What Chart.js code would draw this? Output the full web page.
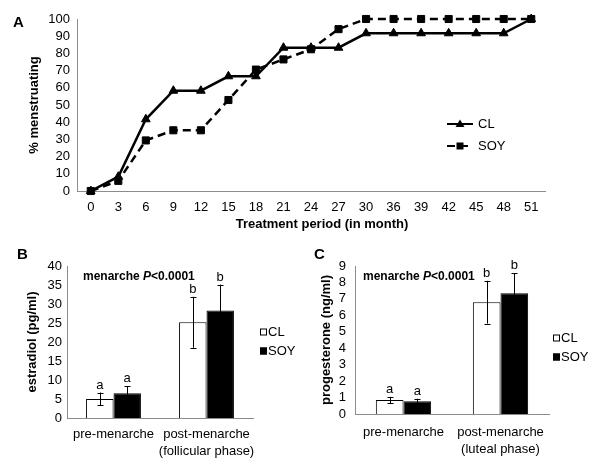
<!DOCTYPE html>
<html>
<head>
<meta charset="utf-8">
<script src="https://cdn.jsdelivr.net/npm/chart.js@4/dist/chart.umd.min.js"></script>
<style>
  body { margin: 0; background: #fff; }
  #wrap { position: relative; width: 600px; height: 466px; }
  canvas { position: absolute; }
</style>
</head>
<body>
<div id="wrap">
  <canvas id="chartA" width="600" height="232" style="left:0;top:0"></canvas>
  <canvas id="chartB" width="300" height="236" style="left:0;top:230px"></canvas>
  <canvas id="chartC" width="300" height="236" style="left:300px;top:230px"></canvas>
</div>
<script>
// panel A data
const months = ['0', '3', '6', '9', '12', '15', '18', '21', '24', '27', '30', '36', '39', '42', '45', '48', '51'];
const clPct = [0, 8.3, 41.7, 58.3, 58.3, 66.7, 66.7, 83.3, 83.3, 83.3, 91.7, 91.7, 91.7, 91.7, 91.7, 91.7, 100];
const soyPct = [0, 5.9, 29.4, 35.3, 35.3, 52.9, 70.6, 76.5, 82.4, 94.1, 100, 100, 100, 100, 100, 100, 100];

// panel B data
const phasesB = ['pre-menarche', ['post-menarche', '(follicular phase)']];
const estradiolCL = [5.0, 25.2];
const estradiolCLErr = [1.7, 6.7];
const estradiolSOY = [6.5, 28.3];
const estradiolSOYErr = [1.8, 6.8];

// panel C data
const phasesC = ['pre-menarche', ['post-menarche', '(luteal phase)']];
const progCL = [0.85, 6.8];
const progCLErr = [0.19, 1.3];
const progSOY = [0.77, 7.35];
const progSOYErr = [0.16, 1.2];

const sigLetters = ['a', 'b'];
const groupNames = ['CL', 'SOY'];

Chart.defaults.font.family = '"Liberation Sans", Arial, sans-serif';
Chart.defaults.font.size = 13;
Chart.defaults.color = '#000';
Chart.defaults.animation = false;

const axisGray = '#8c8c8c';

// plain text drawn on top (panel letters, notes, titles)
const textPlugin = {
    id: 'texts',
    afterDraw(chart, args, opts) {
        const ctx = chart.ctx;
        ctx.save();
        ctx.fillStyle = '#000';
        ctx.textBaseline = 'middle';
        (opts.items || []).forEach(t => {
            ctx.textAlign = t.align || 'left';
            if (t.parts) {
                let x = t.x;
                t.parts.forEach(p => {
                    ctx.font = p.font;
                    ctx.fillText(p.text, x, t.y);
                    x += ctx.measureText(p.text).width;
                });
            } else {
                ctx.font = t.font;
                ctx.fillText(t.text, t.x, t.y);
            }
        });
        ctx.restore();
    }
};

// legend with line + marker for the line chart
const lineLegend = {
    id: 'lineLegend',
    afterDraw(chart, args, opts) {
        const ctx = chart.ctx;
        ctx.save();
        chart.data.datasets.forEach((ds, i) => {
            const y = opts.y + i * opts.gap;
            ctx.strokeStyle = '#000';
            ctx.lineWidth = 2;
            ctx.setLineDash(ds.borderDash || []);
            ctx.beginPath();
            ctx.moveTo(opts.x, y);
            ctx.lineTo(opts.x + 26, y);
            ctx.stroke();
            ctx.setLineDash([]);
            ctx.fillStyle = '#000';
            const cx = opts.x + 13;
            ctx.beginPath();
            if (ds.pointStyle === 'triangle') {
                ctx.moveTo(cx, y - 4.5);
                ctx.lineTo(cx + 4.5, y + 3);
                ctx.lineTo(cx - 4.5, y + 3);
                ctx.closePath();
            } else {
                ctx.rect(cx - 3.5, y - 3.5, 7, 7);
            }
            ctx.fill();
            ctx.font = '13px "Liberation Sans", Arial, sans-serif';
            ctx.textBaseline = 'middle';
            ctx.fillText(ds.label, opts.x + 31, y);
        });
        ctx.restore();
    }
};

// legend with small boxes for the bar charts
const boxLegend = {
    id: 'boxLegend',
    afterDraw(chart, args, opts) {
        const ctx = chart.ctx;
        ctx.save();
        chart.data.datasets.forEach((ds, i) => {
            const y = opts.y + i * opts.gap;
            ctx.fillStyle = ds.backgroundColor;
            ctx.fillRect(opts.x, y - 3.5, 7, 7);
            ctx.strokeStyle = '#000';
            ctx.lineWidth = 1;
            ctx.strokeRect(opts.x + 0.5, y - 3, 6, 6);
            ctx.fillStyle = '#000';
            ctx.font = '13px "Liberation Sans", Arial, sans-serif';
            ctx.textBaseline = 'middle';
            ctx.fillText(ds.label, opts.x + 8, y);
        });
        ctx.restore();
    }
};

// error bars and significance letters, placed with the chart's own scales
const errorBars = {
    id: 'errorBars',
    afterDatasetsDraw(chart, args, opts) {
        const ctx = chart.ctx;
        const yScale = chart.scales.y;
        ctx.save();
        ctx.strokeStyle = '#000';
        ctx.lineWidth = 1;
        chart.data.datasets.forEach((ds, i) => {
            const meta = chart.getDatasetMeta(i);
            meta.data.forEach((bar, j) => {
                const v = ds.data[j];
                const e = opts.errors[i][j];
                const x = Math.round(bar.x) + 0.5;
                const yTop = yScale.getPixelForValue(v + e);
                const yBot = yScale.getPixelForValue(v - e);
                ctx.beginPath();
                ctx.moveTo(x, yTop);
                ctx.lineTo(x, yBot);
                ctx.moveTo(x - 3, Math.round(yTop) + 0.5);
                ctx.lineTo(x + 3, Math.round(yTop) + 0.5);
                ctx.moveTo(x - 3, Math.round(yBot) + 0.5);
                ctx.lineTo(x + 3, Math.round(yBot) + 0.5);
                ctx.stroke();
                ctx.fillStyle = '#000';
                ctx.font = '13px "Liberation Sans", Arial, sans-serif';
                ctx.textAlign = 'center';
                ctx.textBaseline = 'alphabetic';
                ctx.fillText(opts.letters[j], bar.x, yTop - 4);
            });
        });
        ctx.restore();
    }
};

const boldFont = 'bold 13px "Liberation Sans", Arial, sans-serif';
const noteParts = [
    { text: 'menarche ', font: 'bold 12px "Liberation Sans", Arial, sans-serif' },
    { text: 'P', font: 'italic bold 12px "Liberation Sans", Arial, sans-serif' },
    { text: '<0.0001', font: 'bold 12px "Liberation Sans", Arial, sans-serif' }
];

// Panel A: line chart
new Chart(document.getElementById('chartA'), {
    type: 'line',
    data: {
        labels: months,
        datasets: [{
            label: groupNames[0],
            data: clPct,
            borderColor: '#000',
            borderWidth: 2.5,
            pointStyle: 'triangle',
            pointRadius: 5,
            pointBackgroundColor: '#000',
            pointBorderColor: '#000',
            pointBorderWidth: 1,
            tension: 0,
            clip: false
        }, {
            label: groupNames[1],
            data: soyPct,
            borderColor: '#000',
            borderWidth: 2.5,
            borderDash: [8, 5],
            pointStyle: 'rect',
            pointRadius: 5,
            pointBackgroundColor: '#000',
            pointBorderColor: '#000',
            pointBorderWidth: 1,
            tension: 0,
            clip: false
        }]
    },
    options: {
        responsive: false,
        layout: { padding: { left: 0, right: 55, top: 19, bottom: 0 } },
        plugins: {
            legend: { display: false },
            tooltip: { enabled: false },
            lineLegend: { x: 447, y: 124, gap: 22 },
            texts: {
                items: [
                    { text: 'A', x: 13, y: 23, font: 'bold 15px "Liberation Sans", Arial, sans-serif' },
                    { text: 'Treatment period (in month)', x: 322, y: 224, align: 'center', font: boldFont }
                ]
            }
        },
        scales: {
            x: {
                offset: true,
                grid: { display: false, drawTicks: false },
                border: { display: true, color: axisGray, width: 1 },
                ticks: { padding: 9, maxRotation: 0, autoSkip: false },
                afterFit: s => { s.height = 41; }
            },
            y: {
                min: 0,
                max: 100,
                grid: { display: false, drawTicks: false },
                border: { display: true, color: axisGray, width: 1 },
                ticks: { stepSize: 10, padding: 7, autoSkip: false },
                title: { display: true, text: '% menstruating', font: { weight: 'bold', size: 13 }, padding: 27 },
                afterFit: s => { s.width = 77; }
            }
        }
    },
    plugins: [lineLegend, textPlugin]
});

function barChart(id, labels, cl, soy, clErr, soyErr, opt) {
    return new Chart(document.getElementById(id), {
        type: 'bar',
        data: {
            labels: labels,
            datasets: [{
                label: groupNames[0],
                data: cl,
                backgroundColor: '#fff',
                borderColor: '#000',
                borderWidth: 1,
                barPercentage: 1,
                categoryPercentage: opt.catPct
            }, {
                label: groupNames[1],
                data: soy,
                backgroundColor: '#000',
                borderColor: '#000',
                borderWidth: 1,
                barPercentage: 1,
                categoryPercentage: opt.catPct
            }]
        },
        options: {
            responsive: false,
            layout: { padding: { left: 0, right: opt.right, top: 36, bottom: 0 } },
            plugins: {
                legend: { display: false },
                tooltip: { enabled: false },
                errorBars: { errors: [clErr, soyErr], letters: sigLetters },
                boxLegend: { x: opt.legX, y: opt.legY, gap: 19 },
                texts: {
                    items: [
                        { text: opt.letter, x: opt.letterX, y: 25, font: 'bold 15px "Liberation Sans", Arial, sans-serif' },
                        { parts: noteParts, x: opt.noteX, y: 47 }
                    ]
                }
            },
            scales: {
                x: {
                    grid: { display: false, drawTicks: false },
                    border: { display: true, color: axisGray, width: 1 },
                    ticks: { padding: opt.xPad, maxRotation: 0, autoSkip: false, font: { size: 13, lineHeight: 1.3 } },
                    afterFit: s => { s.height = opt.xHeight; }
                },
                y: {
                    min: 0,
                    max: opt.yMax,
                    grid: { display: false, drawTicks: false },
                    border: { display: true, color: axisGray, width: 1 },
                    ticks: { stepSize: opt.step, padding: opt.yPad, autoSkip: false },
                    title: { display: true, text: opt.yTitle, font: { weight: 'bold', size: 13 }, padding: opt.titlePad },
                    afterFit: s => { s.width = opt.yWidth; }
                }
            }
        },
        plugins: [errorBars, boxLegend, textPlugin]
    });
}

// Panel B: estradiol
barChart('chartB', phasesB, estradiolCL, estradiolSOY, estradiolCLErr, estradiolSOYErr, {
    catPct: 0.59, right: 47, xHeight: 48, xPad: 8, yWidth: 67, yPad: 5, yMax: 40, step: 5,
    yTitle: 'estradiol (pg/ml)', titlePad: 25, letter: 'B', letterX: 17, noteX: 83,
    legX: 260, legY: 102
});

// Panel C: progesterone
barChart('chartC', phasesC, progCL, progSOY, progCLErr, progSOYErr, {
    catPct: 0.57, right: 51, xHeight: 52, xPad: 10, yWidth: 55, yPad: 9, yMax: 9, step: 1,
    yTitle: 'progesterone (ng/ml)', titlePad: 19, letter: 'C', letterX: 14, noteX: 63,
    legX: 253, legY: 108
});
</script>
</body>
</html>
